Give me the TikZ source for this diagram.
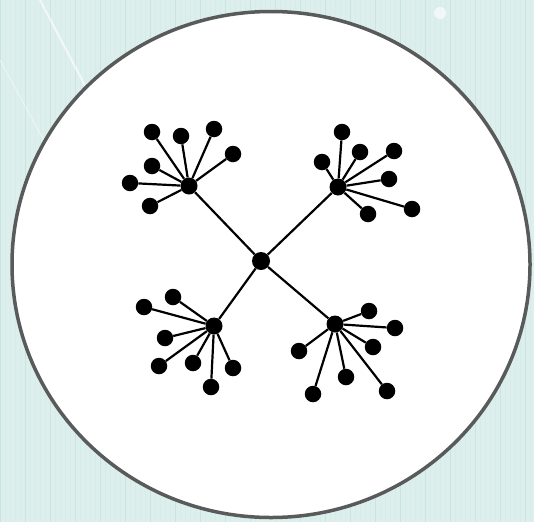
\documentclass[tikz,border=0pt]{standalone}
\usepackage{tikz}
\usetikzlibrary{positioning}
\definecolor{bg-teal}{HTML}{DDEFEC}
\definecolor{bg-grid}{HTML}{CBE4E0}
\definecolor{bg-fine}{HTML}{D7ECE9}
\definecolor{rim}{HTML}{595B5B}

\tikzset{
    leaf/.style={circle, fill=black, inner sep=0pt, minimum size=16.5pt},
    hub/.style={circle, fill=black, inner sep=0pt, minimum size=17pt},
    link/.style={black, line width=2.2pt},
}

\begin{document}
\begin{tikzpicture}[x=1pt, y=-1pt]
    \useasboundingbox (0,0) rectangle (534,522);
    % Background
    \fill[bg-teal] (0,0) rectangle (534,522);
    \draw[bg-fine, line width=0.3pt, step=5] (0,0) grid (534,522);
    \draw[bg-grid, line width=0.6pt, step=25] (0,0) grid (534,522);
    \draw[white, opacity=0.6, line width=2pt] (40,0) -- (140,190);
    \draw[white, opacity=0.4, line width=1.2pt] (0,60) -- (60,170);
    \fill[white, opacity=0.6] (440,13) circle (6);

    % Disc
    \draw[rim, fill=white, line width=3.5pt] (271,264.5) ellipse (259 and 253);

    % Centre and hubs
    \node[hub, minimum size=18pt] (c) at (261,261) {};
    \node[hub] (h1) at (189,186) {};
    \node[hub] (h2) at (338,187) {};
    \node[hub] (h3) at (214,326) {};
    \node[hub] (h4) at (335,324) {};
    \foreach \h in {1,...,4} {
        \draw[link] (c) -- (h\h);
    }

    % Leaves, top left
    \foreach \i/\x/\y in {1/152/132, 2/181/136, 3/214/129, 4/233/154, 5/152/166, 6/130/183, 7/150/206} {
        \node[leaf] (a\i) at (\x,\y) {};
        \draw[link] (h1) -- (a\i);
    }
    % Leaves, top right
    \foreach \i/\x/\y in {1/342/132, 2/322/162, 3/360/152, 4/394/151, 5/389/179, 6/412/209, 7/368/214} {
        \node[leaf] (b\i) at (\x,\y) {};
        \draw[link] (h2) -- (b\i);
    }
    % Leaves, bottom left
    \foreach \i/\x/\y in {1/173/297, 2/144/307, 3/165/338, 4/159/366, 5/193/363, 6/233/368, 7/211/387} {
        \node[leaf] (d\i) at (\x,\y) {};
        \draw[link] (h3) -- (d\i);
    }
    % Leaves, bottom right
    \foreach \i/\x/\y in {1/369/311, 2/395/328, 3/373/347, 4/299/351, 5/346/377, 6/313/394, 7/387/391} {
        \node[leaf] (e\i) at (\x,\y) {};
        \draw[link] (h4) -- (e\i);
    }
\end{tikzpicture}
\end{document}
